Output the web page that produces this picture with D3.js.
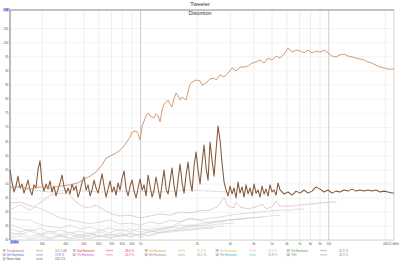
<!DOCTYPE html>
<html>
<head>
<meta charset="utf-8">
<script src="https://cdn.jsdelivr.net/npm/d3@7"></script>
<style>
body { margin: 0; background: #fff; }
svg { display: block; font-family: "Liberation Sans", "DejaVu Sans", sans-serif; }
</style>
</head>
<body>
<script>
// chart text
let chartTitle = "Tweeter";
let plotTitle = "Distortion";

// axis ticks
let yTicks = [30, 35, 40, 45, 50, 55, 60, 65, 70, 75, 80, 85, 90, 95, 100, 105];
let xTicks = [300, 400, 500, 600, 700, 800, 900, 1000, 2000, 3000, 4000, 5000, 6000, 7000, 8000, 9000, 10000, 20000];
let xTickLabels = ["300", "400", "500", "600", "700", "800", "900", "1k", "2k", "3k", "4k", "5k", "6k", "7k", "8k", "9k", "10k", "20k"];
let decadeTicks = [1000, 10000];

// noise trace (dark brown), frequencies in Hz and levels in dB
let noiseFreq = [203.5, 208.5, 213.7, 219.0, 224.4, 230.0, 235.7, 241.5, 247.5, 253.7, 259.9, 266.3, 272.9, 279.7, 286.6, 293.8,
  301.1, 308.5, 316.2, 324.0, 332.1, 340.3, 348.8, 357.4, 366.3, 375.4, 384.7, 394.2, 404.0, 414.0, 424.3,
  434.8, 445.6, 456.7, 468.0, 479.6, 491.5, 503.7, 516.2, 529.0, 542.1, 555.5, 569.3, 583.4, 597.9, 612.7,
  627.9, 643.5, 659.4, 675.8, 692.5, 709.7, 727.3, 745.3, 763.8, 782.7, 802.1, 822.0, 842.4, 863.3, 884.8,
  906.7, 929.2, 952.3, 975.9, 1000, 1025, 1050, 1076, 1103, 1130, 1158, 1187, 1216, 1246, 1277,
  1309, 1341, 1375, 1409, 1443, 1479, 1516, 1553, 1592, 1631, 1672, 1713, 1756, 1799, 1844,
  1889, 1936, 1984, 2033, 2084, 2135, 2188, 2242, 2298, 2355, 2413, 2473, 2534, 2597, 2661,
  2727, 2795, 2864, 2935, 3008, 3082, 3158, 3237, 3317, 3399, 3483, 3570, 3658, 3749, 3841,
  3937, 4034, 4134, 4237, 4341, 4449, 4559, 4672, 4788, 4906, 5028, 5153, 5280, 5411, 5545,
  5823, 6116, 6422, 6745, 7082, 7438, 7811, 8203, 8615, 9046, 9500, 9977, 10478, 11004, 11553,
  12135, 12744, 13384, 14056, 14757, 15498, 16276, 17093, 17951, 18848, 19795, 20789, 21832, 22370];
let noiseDb = [54.8, 50.5, 47.0, 49.1, 52.6, 48.4, 49.8, 46.6, 48.8, 51.2, 47.7, 45.9, 49.5, 48.4, 54.8, 58.0,
  50.2, 47.3, 49.8, 48.0, 50.9, 47.0, 49.1, 45.6, 48.0, 50.2, 53.0, 48.8, 46.6, 48.4, 46.3,
  49.8, 47.7, 49.1, 45.2, 47.3, 50.5, 52.3, 47.7, 49.5, 45.6, 47.7, 51.2, 48.4, 46.6, 49.8,
  53.4, 49.1, 45.2, 48.0, 50.9, 47.0, 48.8, 45.9, 50.2, 47.7, 51.9, 54.4, 48.0, 45.6, 49.1,
  51.2, 47.3, 44.9, 48.4, 51.6, 47.7, 49.5, 45.6, 53.0, 49.1, 45.2, 47.7, 52.3, 48.4, 44.5,
  49.8, 54.8, 48.0, 46.3, 50.9, 55.5, 49.1, 45.2, 51.2, 56.9, 50.2, 46.6, 53.0, 57.6, 50.9,
  47.3, 56.2, 61.1, 54.8, 49.8, 57.2, 63.6, 55.5, 51.2, 64.7, 58.3, 52.6, 61.8, 70.3, 65.4,
  57.2, 50.5, 47.7, 45.6, 49.1, 46.3, 48.4, 44.9, 50.5, 46.6, 48.8, 45.2, 49.5, 46.3, 48.4,
  45.6, 49.8, 46.6, 47.7, 45.2, 49.1, 46.3, 48.0, 45.6, 49.5, 47.0, 47.7, 45.9, 50.2, 47.7,
  46.3, 47.0, 45.9, 47.3, 46.6, 47.7, 46.6, 47.3, 48.8, 48.0, 47.0, 47.7, 46.6, 47.3, 47.0,
  47.7, 47.3, 48.0, 47.3, 47.7, 47.3, 47.7, 47.3, 47.7, 47.0, 47.3, 47.0, 46.6, 46.6];

// fundamental (light brown), [Hz, dB]
let fundamental = [[203.5, 48.4], [230.0, 49.1], [259.9, 48.0], [293.8, 48.8], [332.1, 48.4], [375.4, 49.1], [424.3, 49.5],
  [468.0, 50.2], [503.7, 51.6], [542.1, 52.6], [583.4, 54.1], [627.9, 56.5], [659.4, 59.0], [692.5, 59.7], [745.3, 60.8],
  [782.7, 61.8], [822.0, 63.3], [863.3, 65.4], [884.8, 66.4], [906.7, 68.2], [952.3, 68.6], [975.9, 67.5], [1000, 65.4],
  [1025, 70.3], [1076, 73.9], [1103, 74.9], [1130, 73.9], [1187, 73.2], [1216, 74.6], [1246, 73.9], [1277, 71.8],
  [1309, 76.0], [1341, 78.1], [1409, 79.5], [1443, 78.1], [1479, 77.1], [1516, 80.2], [1553, 82.0], [1592, 81.0],
  [1631, 79.5], [1672, 80.6], [1756, 79.5], [1799, 82.4], [1844, 85.2], [1889, 85.9], [1984, 86.6], [2084, 86.3],
  [2135, 84.8], [2242, 85.6], [2355, 87.0], [2473, 87.3], [2534, 86.6], [2661, 88.4], [2795, 87.7], [2935, 89.1],
  [3082, 90.9], [3237, 89.8], [3399, 91.2], [3570, 91.2], [3749, 91.6], [3937, 92.6], [4134, 93.0], [4341, 93.7],
  [4559, 92.6], [4788, 94.4], [5028, 93.7], [5280, 95.1], [5545, 94.4], [5823, 95.8], [6116, 97.9], [6422, 96.5],
  [6745, 97.2], [7082, 96.9], [7438, 96.2], [7811, 97.2], [8203, 96.2], [8615, 96.9], [9046, 96.5], [9500, 97.2],
  [9977, 96.2], [10478, 95.1], [11004, 94.8], [11553, 95.5], [12135, 95.8], [12744, 95.1], [13384, 94.8], [14056, 94.4],
  [14757, 94.1], [15498, 93.7], [16276, 93.0], [17093, 92.6], [17951, 91.9], [18848, 91.2], [19795, 90.9], [20789, 90.5],
  [21832, 90.5], [22370, 90.5]];

// THD trace (grey)
let thd = [[203.5, 49.1], [259.9, 47.7], [332.1, 47.0], [424.3, 47.7], [612.7, 47.0], [884.8, 47.3], [1277, 47.0],
  [1844, 47.7], [2355, 47.3], [2864, 47.0]];

// harmonics, [Hz, dB]
let h2 = [[203.5, 43.1], [230.0, 43.4], [272.9, 41.7], [308.5, 44.2], [332.1, 45.9], [375.4, 46.6], [414.0, 46.6],
  [456.7, 43.4], [491.5, 42.0], [529.0, 41.3], [583.4, 42.4], [643.5, 40.6], [709.7, 39.2], [782.7, 38.5], [884.8, 38.8],
  [1000, 37.8], [1130, 38.5], [1277, 39.2], [1443, 38.8], [1631, 39.9], [1844, 39.6], [2084, 40.3], [2355, 40.6],
  [2597, 42.0], [2727, 44.2], [2795, 45.2], [2935, 42.0], [3158, 41.3], [3237, 43.4], [3399, 41.7], [3749, 41.0],
  [4134, 41.7], [4449, 42.7], [4672, 41.0], [5028, 41.7], [5280, 43.8], [5545, 42.0], [6267, 42.0], [7082, 42.4],
  [8004, 42.7], [9046, 43.1], [10223, 43.4], [11004, 43.4]];
let h3 = [[203.5, 40.6], [219.0, 41.7], [230.0, 42.4], [259.9, 40.6], [279.7, 41.7], [308.5, 40.6], [340.3, 39.2],
  [375.4, 37.8], [424.3, 37.1], [479.6, 36.4], [542.1, 35.7], [612.7, 36.4], [692.5, 37.1], [782.7, 35.7], [884.8, 36.0],
  [1000, 35.3], [1130, 36.4], [1277, 35.7], [1443, 37.1], [1631, 36.4], [1844, 37.4], [2084, 37.1], [2355, 37.8],
  [2661, 38.1], [3008, 38.8], [3399, 39.2], [3841, 39.6], [4341, 39.9], [4906, 40.3], [5545, 40.6], [6267, 40.6],
  [7082, 41.0], [7438, 41.0]];
let h4 = [[203.5, 37.8], [230.0, 37.1], [259.9, 37.1], [279.7, 36.0], [316.2, 35.0], [375.4, 34.2], [424.3, 35.3],
  [479.6, 33.9], [542.1, 34.6], [612.7, 33.5], [692.5, 34.2], [782.7, 33.2], [884.8, 33.9], [1000, 32.8], [1130, 33.9],
  [1277, 34.2], [1443, 34.6], [1631, 35.3], [1844, 35.0], [2084, 35.7], [2355, 36.4], [2661, 36.7], [3008, 37.1],
  [3399, 37.4], [3841, 37.8], [4341, 38.1], [4906, 38.5], [5545, 38.8]];
let h5 = [[203.5, 35.7], [230.0, 34.2], [259.9, 33.2], [293.8, 34.2], [332.1, 32.8], [375.4, 33.5], [424.3, 32.5],
  [479.6, 33.2], [542.1, 32.1], [612.7, 33.5], [692.5, 32.5], [782.7, 33.9], [884.8, 32.8], [1000, 34.2], [1130, 33.2],
  [1277, 33.9], [1443, 34.6], [1631, 34.2], [1844, 35.3], [2084, 35.0], [2355, 36.0], [2661, 36.4], [3008, 37.1],
  [3399, 37.4], [3841, 37.8], [4449, 38.1]];
let h6 = [[203.5, 34.2], [230.0, 32.8], [259.9, 33.9], [293.8, 32.1], [332.1, 33.2], [375.4, 31.8], [424.3, 32.8],
  [479.6, 31.4], [542.1, 32.5], [612.7, 31.1], [692.5, 32.1], [782.7, 31.4], [884.8, 32.5], [1000, 31.8], [1130, 32.8],
  [1277, 33.5], [1443, 34.2], [1631, 36.4], [1756, 37.4], [1889, 37.8], [2033, 37.1], [2188, 36.4], [2355, 36.0],
  [2661, 36.7], [3008, 37.1], [3399, 37.4], [3658, 37.8]];
let h7 = [[203.5, 32.8], [230.0, 31.8], [259.9, 33.2], [293.8, 31.4], [332.1, 32.5], [375.4, 31.1], [424.3, 32.1],
  [479.6, 30.7], [542.1, 31.8], [612.7, 32.8], [692.5, 31.4], [782.7, 32.5], [884.8, 31.1], [1000, 32.1], [1130, 33.2],
  [1277, 32.5], [1443, 33.5], [1631, 33.9], [1844, 34.6], [2084, 35.0], [2355, 35.3], [2661, 35.7], [3158, 36.0]];
let h8 = [[203.5, 31.4], [230.0, 32.5], [259.9, 31.1], [293.8, 32.1], [332.1, 30.7], [375.4, 31.8], [424.3, 30.7],
  [479.6, 32.1], [542.1, 31.1], [612.7, 31.8], [692.5, 30.7], [782.7, 31.4], [884.8, 32.1], [1000, 31.1], [1130, 31.8],
  [1277, 32.8], [1443, 33.2], [1631, 33.5], [1844, 33.9], [2084, 34.2], [2355, 34.6], [2795, 35.0]];
let h9 = [[203.5, 30.7], [230.0, 31.4], [259.9, 30.4], [293.8, 31.1], [332.1, 30.4], [375.4, 31.4], [424.3, 30.4],
  [479.6, 31.1], [542.1, 30.4], [612.7, 31.4], [692.5, 30.7], [782.7, 31.8], [884.8, 31.1], [1000, 32.1], [1130, 31.4],
  [1277, 32.5], [1443, 32.8], [1631, 33.2], [1844, 33.5], [2084, 33.9], [2473, 34.2]];

// legend
let legendNames = ["Fundamental", "2nd Harmonic", "3rd Harmonic", "4th Harmonic", "5th Harmonic",
  "6th Harmonic", "7th Harmonic", "8th Harmonic", "9th Harmonic", "THD", "Noise floor"];
let legendColors = ["#c0703a", "#e03a3a", "#f0a028", "#e6c227", "#3ea043",
  "#4a62d8", "#d64ad6", "#8c8c8c", "#2fb4c4", "#8c8c8c", "#7a4a2c"];
let legendValues = ["101.5 dB", "28.6 %", "17.7 %", "13.4 %", "15.5 %",
  "17.8 %", "23.9 %", "12.1 %", "13.8 %", "48.5 %", "115.2 %"];

let svgWidth = 400, svgHeight = 263;
let plotLeft = 10, plotRight = 394, plotTop = 10, plotBottom = 240;

let svg = d3.select("body").append("svg")
  .attr("width", svgWidth)
  .attr("height", svgHeight);

let xScale = d3.scaleLog().domain([203.5, 22370]).range([plotLeft, plotRight]);
let yScale = d3.scaleLinear().domain([30, 111.4]).range([plotBottom, plotTop]);

// grid
svg.append("g")
  .attr("transform", "translate(" + plotLeft + ",0)")
  .call(d3.axisLeft(yScale).tickValues(yTicks).tickSize(-(plotRight - plotLeft)).tickFormat(""))
  .call(g => g.select(".domain").remove())
  .call(g => g.selectAll("line").attr("stroke", "#ececec").attr("stroke-width", 0.6));

svg.append("g")
  .attr("transform", "translate(0," + plotBottom + ")")
  .call(d3.axisBottom(xScale).tickValues(xTicks).tickSize(-(plotBottom - plotTop)).tickFormat(""))
  .call(g => g.select(".domain").remove())
  .call(g => g.selectAll("line")
    .attr("stroke", d => decadeTicks.includes(d) ? "#c8c8c8" : "#e6e6e6")
    .attr("stroke-width", d => decadeTicks.includes(d) ? 0.9 : 0.7));

// frame
svg.append("rect")
  .attr("x", plotLeft).attr("y", plotTop)
  .attr("width", plotRight - plotLeft).attr("height", plotBottom - plotTop)
  .attr("fill", "none").attr("stroke", "#c4c4c4").attr("stroke-width", 0.7);
svg.append("line").attr("x1", plotLeft).attr("x2", plotRight).attr("y1", plotTop).attr("y2", plotTop)
  .attr("stroke", "#9a9a9a").attr("stroke-width", 1);
svg.append("line").attr("x1", plotLeft).attr("x2", plotLeft).attr("y1", plotTop).attr("y2", plotBottom)
  .attr("stroke", "#8a8a8a").attr("stroke-width", 1);

// y labels
svg.append("g")
  .attr("transform", "translate(" + plotLeft + ",0)")
  .call(d3.axisLeft(yScale).tickValues(yTicks).tickSize(0).tickPadding(1.5))
  .call(g => g.select(".domain").remove())
  .call(g => g.selectAll("text").attr("font-size", 3).attr("fill", "#555").attr("font-family", "Liberation Sans"));

// x labels
svg.append("g")
  .attr("transform", "translate(0," + plotBottom + ")")
  .call(d3.axisBottom(xScale).tickValues(xTicks).tickSize(0).tickPadding(2.5)
    .tickFormat((d, i) => xTickLabels[i]))
  .call(g => g.select(".domain").remove())
  .call(g => g.selectAll("text").attr("font-size", 3).attr("fill", "#555").attr("font-family", "Liberation Sans"));

// highlighted axis ends
svg.append("rect").attr("x", 3).attr("y", 8).attr("width", 7).attr("height", 3.4).attr("fill", "#b4bcf6");
svg.append("text").attr("x", 6.5).attr("y", 10.6).attr("text-anchor", "middle")
  .attr("font-size", 2.8).attr("fill", "#3340a0").text("dB");
svg.append("rect").attr("x", 10).attr("y", 240.5).attr("width", 9).attr("height", 3.4).attr("fill", "#b4bcf6");
svg.append("text").attr("x", 14.5).attr("y", 243.1).attr("text-anchor", "middle")
  .attr("font-size", 2.8).attr("fill", "#3340a0").text("203Hz");
svg.append("text").attr("x", 399).attr("y", 244.8).attr("text-anchor", "end")
  .attr("font-size", 3).attr("fill", "#555").text("22.4kHz");

// titles
svg.append("text").attr("x", 200).attr("y", 6).attr("text-anchor", "middle")
  .attr("font-size", 5.5).attr("fill", "#333").text(chartTitle);
svg.append("text").attr("x", 200).attr("y", 15).attr("text-anchor", "middle")
  .attr("font-size", 5.5).attr("fill", "#333").text(plotTitle);

let lineGen = d3.line()
  .x(d => xScale(d[0]))
  .y(d => yScale(d[1]));

let plot = svg.append("g");

// harmonics: faint grey base plus light coloured dashes
let harmonics = [h9, h8, h7, h6, h5, h4, h3, h2];
let harmonicColors = [legendColors[8], legendColors[7], legendColors[6], legendColors[5],
  legendColors[4], legendColors[3], legendColors[2], legendColors[1]];
let harmonicAlpha = [0.12, 0.12, 0.12, 0.25, 0.12, 0.3, 0.45, 0.5];

harmonics.forEach((h, i) => {
  plot.append("path").datum(h)
    .attr("fill", "none").attr("stroke", "#d2d2d2").attr("stroke-width", 0.6)
    .attr("d", lineGen);
  plot.append("path").datum(h)
    .attr("fill", "none").attr("stroke", harmonicColors[i]).attr("stroke-width", 0.6)
    .attr("stroke-opacity", harmonicAlpha[i])
    .attr("stroke-dasharray", "1.2,1.8")
    .attr("d", lineGen);
});

// THD
plot.append("path").datum(thd)
  .attr("fill", "none").attr("stroke", "#b0b0b0").attr("stroke-width", 0.7)
  .attr("stroke-dasharray", "1.5,1")
  .attr("d", lineGen);

// noise
plot.append("path").datum(noiseFreq.map((f, i) => [f, noiseDb[i]]))
  .attr("fill", "none").attr("stroke", "#85573a").attr("stroke-width", 1.05)
  .attr("stroke-linejoin", "round")
  .attr("d", lineGen);

// fundamental
plot.append("path").datum(fundamental)
  .attr("fill", "none").attr("stroke", "#cc8a5c").attr("stroke-width", 0.85)
  .attr("stroke-linejoin", "round")
  .attr("d", lineGen);

// legend, 5 columns
let colX = [3, 73, 145, 216, 287];
let rowY = [250.5, 254.8, 259];
let legend = svg.append("g").attr("font-size", 2.9);

legendNames.forEach((name, i) => {
  let cx = colX[i % 5], cy = rowY[Math.floor(i / 5)];
  let item = legend.append("g").attr("transform", "translate(" + cx + "," + cy + ")");
  item.append("rect").attr("x", 0).attr("y", -1.3).attr("width", 2.4).attr("height", 2.4)
    .attr("fill", "#fff").attr("stroke", "#888").attr("stroke-width", 0.3);
  item.append("path").attr("d", "M0.5,0 L1.1,0.7 L2.0,-0.9")
    .attr("fill", "none").attr("stroke", "#333").attr("stroke-width", 0.4);
  item.append("text").attr("x", 4).attr("y", 1).attr("fill", legendColors[i]).text(name);
  item.append("rect").attr("x", 33).attr("y", -0.8).attr("width", 7).attr("height", 1.6)
    .attr("fill", legendColors[i]).attr("fill-opacity", 0.35);
  item.append("text").attr("x", 52).attr("y", 1).attr("fill", legendColors[i]).text(legendValues[i]);
});
</script>
</body>
</html>
